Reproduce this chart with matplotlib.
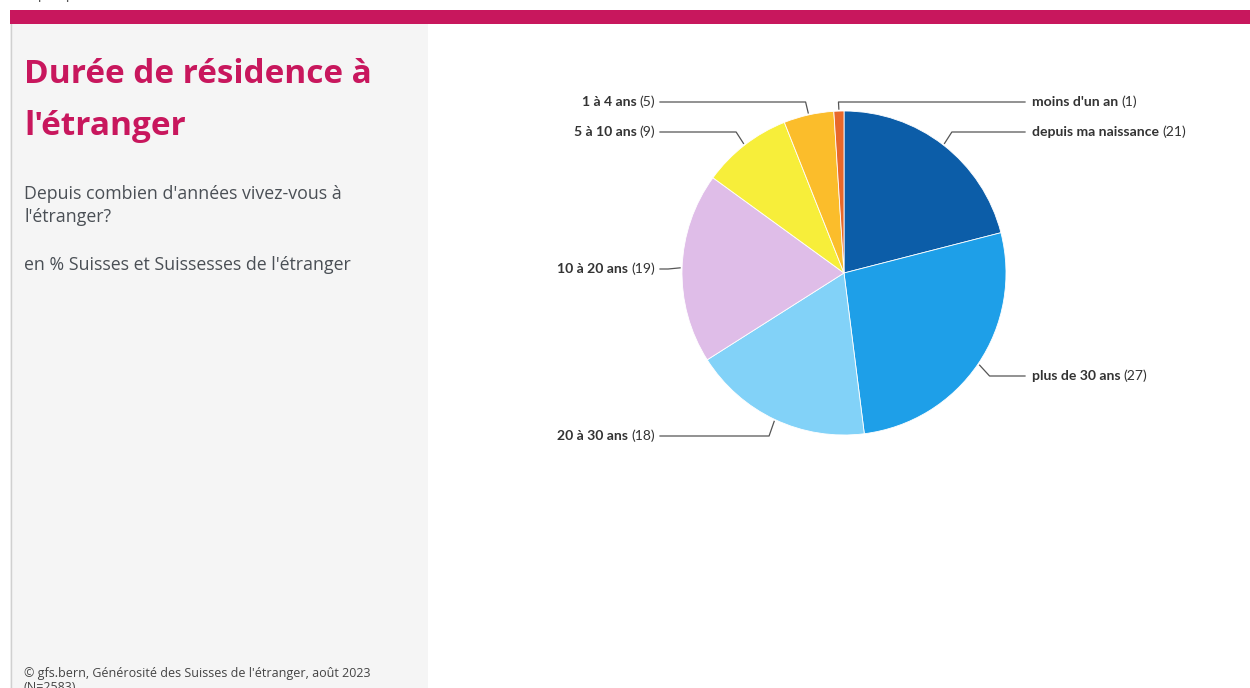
import matplotlib
matplotlib.use("Agg")
import matplotlib.pyplot as plt
import numpy as np
from matplotlib.patches import Rectangle

# ---- data ----
categories = ["depuis ma naissance", "plus de 30 ans", "20 à 30 ans", "10 à 20 ans",
              "5 à 10 ans", "1 à 4 ans", "moins d'un an"]
values = [21, 27, 18, 19, 9, 5, 1]
colors = ["#0c5da8", "#1e9fe8", "#82d2f8", "#dfbde8", "#f7ee3a", "#fbbd2b", "#e8682a"]

title_lines = ["Durée de résidence à", "l'étranger"]
subtitle_lines = ["Depuis combien d'années vivez-vous à", "l'étranger?"]
unit = "en % Suisses et Suissesses de l'étranger"
source_lines = ["© gfs.bern, Générosité des Suisses de l'étranger, août 2023", "(N=2583)"]

# label layout (pixel rows of the labels, from the top)
label_rows = [132, 376, 436, 269, 132, 102, 102]
label_right = [True, True, False, False, False, False, True]

W, H = 1250, 688
fig = plt.figure(figsize=(W / 100, H / 100), dpi=100)
ax = fig.add_axes([0, 0, 1, 1])
ax.set_xlim(0, W)
ax.set_ylim(0, H)
ax.axis("off")

def Y(y):
    return H - y

# background elements
ax.add_patch(Rectangle((10, Y(688)), 418, 688 - 24, facecolor="#f5f5f5", edgecolor="none", zorder=0))
ax.plot([10.5, 10.5], [Y(24), Y(688)], color="#d0d0d0", lw=1, zorder=1)
ax.add_patch(Rectangle((10, Y(24)), W - 10, 14, facecolor="#c8175d", edgecolor="none", zorder=1))
ax.text(12, Y(-2), "Graphique", fontsize=11, color="#555555", va="baseline", ha="left",
        family="Open Sans", clip_on=True)

# left panel text
for line, base in zip(title_lines, [83, 135]):
    ax.text(24, Y(base), line, fontsize=24, fontweight="bold", color="#c8175d",
            va="baseline", ha="left", family="Open Sans")
for line, base in zip(subtitle_lines, [199, 222]):
    ax.text(24, Y(base), line, fontsize=12.8, color="#4a4f55", va="baseline", ha="left",
            family="Open Sans")
ax.text(24, Y(270), unit, fontsize=12.8, color="#4a4f55", va="baseline", ha="left",
        family="Open Sans")
for line, base in zip(source_lines, [677, 691]):
    ax.text(24, Y(base), line, fontsize=9.0, color="#444444", va="baseline", ha="left",
            family="Open Sans")

# pie
cx, cy, R = 844, 273, 162
wedges, _ = ax.pie(values, colors=colors, startangle=90, counterclock=False,
                   center=(cx, Y(cy)), radius=R, frame=True,
                   wedgeprops=dict(edgecolor="white", linewidth=0.6))
ax.set_xlim(0, W)
ax.set_ylim(0, H)
ax.set_aspect("equal")
ax.axis("off")

fig.canvas.draw()
renderer = fig.canvas.get_renderer()

font = "Lato"
fs = 10.1
for w, cat, val, row, right in zip(wedges, categories, values, label_rows, label_right):
    th = np.deg2rad((w.theta1 + w.theta2) / 2)
    dx, dy = np.cos(th), np.sin(th)
    x0, y0 = cx + (R + 2) * dx, Y(cy) + (R + 2) * dy
    x1 = cx + (R + 14) * dx
    yl = Y(row)
    xend = 1025 if right else 660
    ax.plot([x0, x1, xend], [y0, yl, yl], color="#555555", lw=0.9, zorder=3)
    by = yl - 4
    if right:
        t = ax.text(xend + 7, by, cat, fontsize=fs, fontweight="bold", color="#333333",
                    ha="left", va="baseline", family=font)
        bb = t.get_window_extent(renderer)
        ax.text(bb.x1 + 3, by, f"({val})", fontsize=fs, color="#333333",
                ha="left", va="baseline", family=font)
    else:
        t = ax.text(xend - 5, by, f"({val})", fontsize=fs, color="#333333",
                    ha="right", va="baseline", family=font)
        bb = t.get_window_extent(renderer)
        ax.text(bb.x0 - 3, by, cat, fontsize=fs, fontweight="bold", color="#333333",
                ha="right", va="baseline", family=font)

fig.savefig("out.png", dpi=100)
